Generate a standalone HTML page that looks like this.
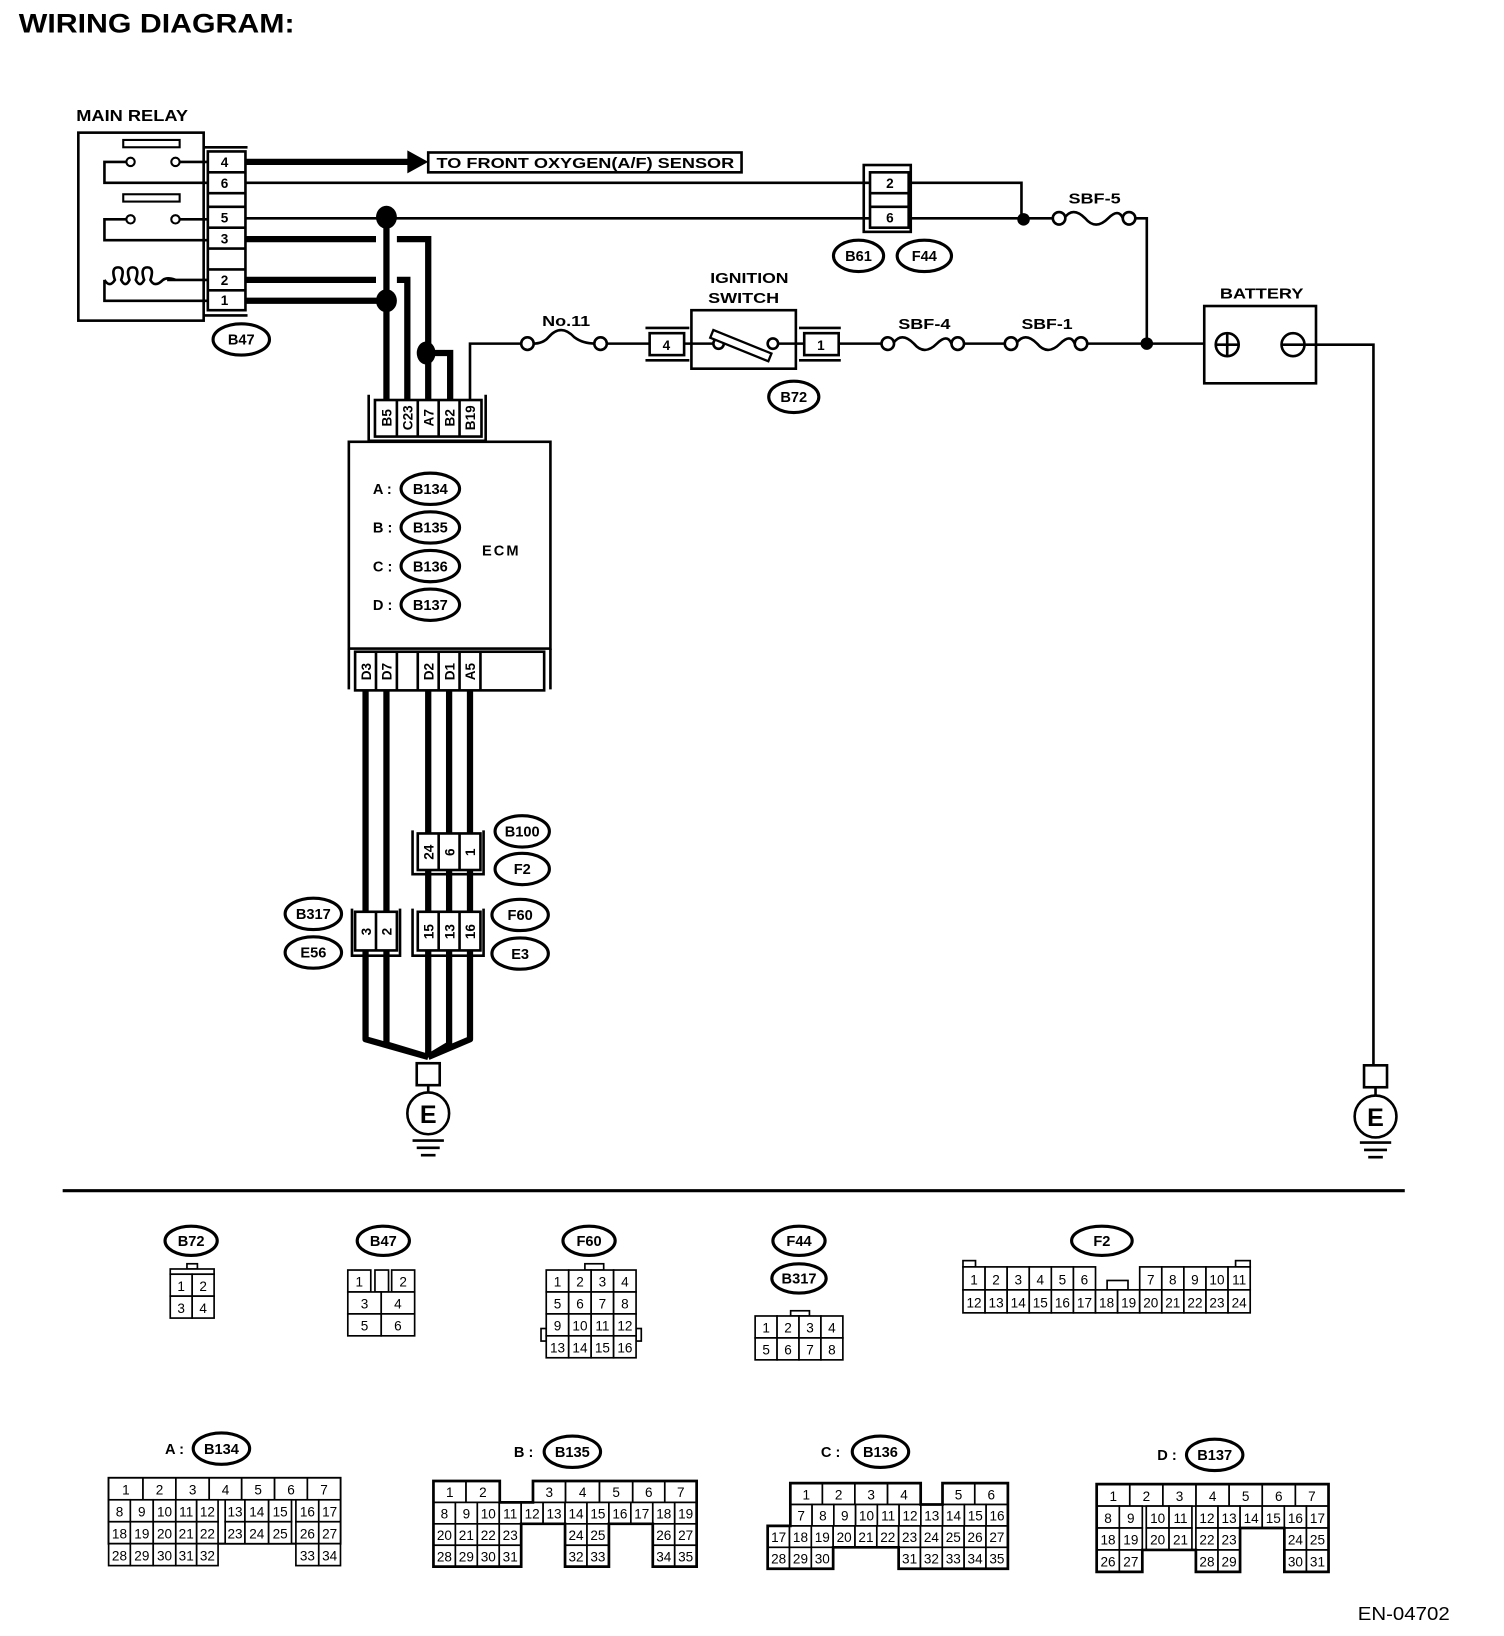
<!DOCTYPE html>
<html><head><meta charset="utf-8"><style>
html,body{margin:0;padding:0;background:#fff}
svg{display:block}
text{font-family:"Liberation Sans",Arial,sans-serif;fill:#000}
.b{font-weight:bold}
.c{fill:#fff;stroke:#000;stroke-width:1.6}
.t{font-size:13px;text-anchor:middle}
.o{fill:#fff;stroke:#000;stroke-width:3}
.ot{font-size:14px;font-weight:bold;text-anchor:middle}
.w{stroke:#000;fill:none;stroke-width:2.5}
.W{stroke:#000;fill:none;stroke-width:6}
</style></head><body>
<svg width="1504" height="1636" viewBox="0 0 1440 1566.4" preserveAspectRatio="none" xmlns="http://www.w3.org/2000/svg">
<text x="18" y="31" class="b" font-size="26" textLength="264" lengthAdjust="spacingAndGlyphs">WIRING DIAGRAM:</text>

<!-- MAIN RELAY -->
<text x="73" y="116" class="b" font-size="15" textLength="107" lengthAdjust="spacingAndGlyphs">MAIN RELAY</text>
<rect x="75" y="127" width="120" height="180" fill="none" stroke="#000" stroke-width="2.5"/>
<rect x="118" y="134" width="54" height="7" fill="none" stroke="#000" stroke-width="2"/>
<rect x="118" y="186" width="54" height="7" fill="none" stroke="#000" stroke-width="2"/>
<path class="w" d="M121,155 H100 V175 H200 M172,155 H200 M121,210 H100 V230 H200 M172,210 H200 M100,268 V288 H200 M160,268 H200"/>
<circle cx="125" cy="155" r="4" fill="#fff" stroke="#000" stroke-width="2"/>
<circle cx="168" cy="155" r="4" fill="#fff" stroke="#000" stroke-width="2"/>
<circle cx="125" cy="210" r="4" fill="#fff" stroke="#000" stroke-width="2"/>
<circle cx="168" cy="210" r="4" fill="#fff" stroke="#000" stroke-width="2"/>
<path class="w" d="M100,268 q5,8 10,0 q-4,-12 3,-12 q7,0 3,12 q4,8 8,0 q-4,-12 3,-12 q7,0 3,12 q4,8 8,0 q-4,-12 3,-12 q7,0 3,12 q4,8 12,0 q4,-3 12,0"/>
<path class="w" d="M195,141 H237 M195,302 H237"/>
<rect x="199" y="145" width="36" height="152" fill="#fff" stroke="#000" stroke-width="2.5"/>
<path class="w" d="M199,165 H235 M199,185 H235 M199,198 H235 M199,218 H235 M199,238 H235 M199,258 H235 M199,278 H235"/>
<text x="215" y="160" class="t b">4</text><text x="215" y="180" class="t b">6</text>
<text x="215" y="213" class="t b">5</text><text x="215" y="233" class="t b">3</text>
<text x="215" y="273" class="t b">2</text><text x="215" y="292" class="t b">1</text>
<ellipse cx="231" cy="325" rx="27" ry="15" class="o"/><text x="231" y="330" class="ot">B47</text>

<!-- to O2 sensor -->
<path class="W" d="M235,155 H392"/>
<polygon points="390,144 410,155 390,166"/>
<rect x="410" y="146" width="300" height="19" fill="#fff" stroke="#000" stroke-width="2.5"/>
<text x="418" y="161" class="b" font-size="14" textLength="285" lengthAdjust="spacingAndGlyphs">TO FRONT OXYGEN(A/F) SENSOR</text>

<!-- pin6/pin5 thin -->
<path class="w" d="M235,175 H833 M870,175 H978 V210 M235,209 H833 M870,209 H1008 M1087,209 H1098 V329"/>
<rect x="827" y="158" width="45" height="64" fill="none" stroke="#000" stroke-width="2.5"/>
<rect x="833" y="165" width="37" height="53" fill="#fff" stroke="#000" stroke-width="2.5"/>
<path class="w" d="M833,185 H870 M833,198 H870"/>
<text x="852" y="180" class="t b">2</text><text x="852" y="213" class="t b">6</text>
<ellipse cx="822" cy="245" rx="24" ry="15" class="o"/><text x="822" y="250" class="ot">B61</text>
<ellipse cx="885" cy="245" rx="26" ry="15" class="o"/><text x="885" y="250" class="ot">F44</text>
<circle cx="980" cy="210" r="6"/>
<!-- SBF-5 -->
<text x="1023" y="195" class="b" font-size="14" textLength="50" lengthAdjust="spacingAndGlyphs">SBF-5</text>
<path class="w" d="M1019,209 q8,-12 20,0 q10,12 22,0 q10,-10 14,0" stroke-width="2"/>
<circle cx="1014" cy="209" r="6" fill="#fff" stroke="#000" stroke-width="2.5"/>
<circle cx="1081" cy="209" r="6" fill="#fff" stroke="#000" stroke-width="2.5"/>

<!-- thick wires to ECM -->
<path class="W" d="M235,229 H360 M380,229 H410 V385 M235,268 H360 M380,268 H390 V385 M235,288 H370 M370,208 V385 M408,338 H431 V385"/>
<ellipse cx="370" cy="208" rx="10" ry="11"/>
<ellipse cx="370" cy="288" rx="10" ry="11"/>
<ellipse cx="408" cy="338" rx="9" ry="11"/>
<path class="w" d="M450,385 V329 H500 M580,329 H622"/>
<!-- No.11 -->
<text x="519" y="312" class="b" font-size="14" textLength="46" lengthAdjust="spacingAndGlyphs">No.11</text>
<path class="w" d="M510,329 q10,0 15,-6 q12,-14 25,0 q8,6 20,6" stroke-width="2"/>
<circle cx="505" cy="329" r="6" fill="#fff" stroke="#000" stroke-width="2.5"/>
<circle cx="575" cy="329" r="6" fill="#fff" stroke="#000" stroke-width="2.5"/>

<!-- Ignition switch -->
<text x="680" y="271" class="b" font-size="14" textLength="75" lengthAdjust="spacingAndGlyphs">IGNITION</text>
<text x="678" y="290" class="b" font-size="14" textLength="68" lengthAdjust="spacingAndGlyphs">SWITCH</text>
<path class="w" d="M618,314 H660 M618,345 H660 M765,314 H805 M765,345 H805"/>
<rect x="622" y="319" width="33" height="21" fill="#fff" stroke="#000" stroke-width="2.5"/>
<text x="638" y="335" class="t b">4</text>
<rect x="662" y="297" width="100" height="56" fill="#fff" stroke="#000" stroke-width="2.5"/>
<path class="w" d="M655,329 H683 M745,329 H770"/>
<circle cx="688" cy="329" r="5" fill="#fff" stroke="#000" stroke-width="2.5"/>
<circle cx="740" cy="329" r="5" fill="#fff" stroke="#000" stroke-width="2.5"/>
<rect x="683" y="316" width="60" height="8" fill="#fff" stroke="#000" stroke-width="2.2" transform="rotate(22 683 316)"/>
<rect x="770" y="319" width="33" height="21" fill="#fff" stroke="#000" stroke-width="2.5"/>
<text x="786" y="335" class="t b">1</text>
<ellipse cx="760" cy="380" rx="24" ry="15" class="o"/><text x="760" y="385" class="ot">B72</text>

<path class="w" d="M803,329 H845 M922,329 H963 M1040,329 H1160"/>
<text x="860" y="315" class="b" font-size="14" textLength="50" lengthAdjust="spacingAndGlyphs">SBF-4</text>
<path class="w" d="M855,329 q8,-12 20,0 q10,12 22,0 q10,-10 14,0" stroke-width="2"/>
<circle cx="850" cy="329" r="6" fill="#fff" stroke="#000" stroke-width="2.5"/>
<circle cx="917" cy="329" r="6" fill="#fff" stroke="#000" stroke-width="2.5"/>
<text x="978" y="315" class="b" font-size="14" textLength="49" lengthAdjust="spacingAndGlyphs">SBF-1</text>
<path class="w" d="M973,329 q8,-12 20,0 q10,12 22,0 q10,-10 14,0" stroke-width="2"/>
<circle cx="968" cy="329" r="6" fill="#fff" stroke="#000" stroke-width="2.5"/>
<circle cx="1035" cy="329" r="6" fill="#fff" stroke="#000" stroke-width="2.5"/>
<circle cx="1098" cy="329" r="6"/>

<!-- Battery -->
<text x="1168" y="286" class="b" font-size="14" textLength="80" lengthAdjust="spacingAndGlyphs">BATTERY</text>
<rect x="1153" y="293" width="107" height="74" fill="#fff" stroke="#000" stroke-width="2.5"/>
<circle cx="1175" cy="330" r="11" fill="none" stroke="#000" stroke-width="2.5"/>
<path class="w" d="M1164,330 H1186 M1175,319 V341 M1227,330 H1315 V1020"/>
<circle cx="1238" cy="330" r="11" fill="#fff" stroke="#000" stroke-width="2.5"/>
<path class="w" d="M1227,330 H1249"/>
<!-- right ground -->
<rect x="1306" y="1020" width="22" height="21" fill="#fff" stroke="#000" stroke-width="2.5"/>
<path class="w" d="M1317,1041 V1050"/>
<circle cx="1317" cy="1069" r="20" fill="#fff" stroke="#000" stroke-width="2.5"/>
<text x="1317" y="1078" font-size="24" class="b" text-anchor="middle">E</text>
<path class="w" d="M1302,1094 H1332 M1306,1101 H1328 M1310,1108 H1324"/>

<!-- ECM top connector -->
<path class="w" d="M353,378 V422 H465 V378"/>
<rect x="359" y="383" width="102" height="35" fill="#fff" stroke="#000" stroke-width="2.5"/>
<path class="w" d="M380,383 V418 M400,383 V418 M420,383 V418 M440,383 V418"/>
<g class="b" font-size="13" text-anchor="middle">
<text transform="translate(375,400) rotate(-90)">B5</text>
<text transform="translate(395,400) rotate(-90)">C23</text>
<text transform="translate(415,400) rotate(-90)">A7</text>
<text transform="translate(435,400) rotate(-90)">B2</text>
<text transform="translate(455,400) rotate(-90)">B19</text>
</g>
<!-- ECM -->
<rect x="334" y="423" width="193" height="198" fill="#fff" stroke="#000" stroke-width="2.5"/>
<text x="357" y="473" class="b" font-size="14">A :</text>
<ellipse cx="412" cy="468" rx="28" ry="15" class="o"/><text x="412" y="473" class="ot">B134</text>
<text x="357" y="510" class="b" font-size="14">B :</text>
<ellipse cx="412" cy="505" rx="28" ry="15" class="o"/><text x="412" y="510" class="ot">B135</text>
<text x="357" y="547" class="b" font-size="14">C :</text>
<ellipse cx="412" cy="542" rx="28" ry="15" class="o"/><text x="412" y="547" class="ot">B136</text>
<text x="357" y="584" class="b" font-size="14">D :</text>
<ellipse cx="412" cy="579" rx="28" ry="15" class="o"/><text x="412" y="584" class="ot">B137</text>
<text x="480" y="532" class="ot" letter-spacing="2">ECM</text>
<path class="w" d="M334,621 V660 M527,621 V660"/>
<rect x="340" y="624" width="181" height="37" fill="#fff" stroke="#000" stroke-width="2.5"/>
<path class="w" d="M360,624 V661 M380,624 V661 M400,624 V661 M420,624 V661 M440,624 V661 M460,624 V661"/>
<g class="b" font-size="13" text-anchor="middle">
<text transform="translate(355,643) rotate(-90)">D3</text>
<text transform="translate(375,643) rotate(-90)">D7</text>
<text transform="translate(415,643) rotate(-90)">D2</text>
<text transform="translate(435,643) rotate(-90)">D1</text>
<text transform="translate(455,643) rotate(-90)">A5</text>
</g>
<!-- lower wires -->
<path class="W" d="M350,661 V995 L410,1012 M370,661 V1000 L410,1012 M410,661 V1012 M430,661 V1000 L410,1012 M450,661 V995 L410,1012" stroke-linejoin="round"/>
<!-- B100/F2 -->
<path class="w" d="M395,795 V837 H463 V795"/>
<rect x="400" y="798" width="60" height="35" fill="#fff" stroke="#000" stroke-width="2.5"/>
<path class="w" d="M420,798 V833 M440,798 V833"/>
<g class="b" font-size="13" text-anchor="middle">
<text transform="translate(415,816) rotate(-90)">24</text>
<text transform="translate(435,816) rotate(-90)">6</text>
<text transform="translate(455,816) rotate(-90)">1</text>
</g>
<ellipse cx="500" cy="796" rx="26" ry="15" class="o"/><text x="500" y="801" class="ot">B100</text>
<ellipse cx="500" cy="832" rx="26" ry="15" class="o"/><text x="500" y="837" class="ot">F2</text>
<!-- B317/E56 -->
<path class="w" d="M337,870 V915 H383 V870"/>
<rect x="340" y="873" width="40" height="37" fill="#fff" stroke="#000" stroke-width="2.5"/>
<path class="w" d="M360,873 V910"/>
<g class="b" font-size="13" text-anchor="middle">
<text transform="translate(355,892) rotate(-90)">3</text>
<text transform="translate(375,892) rotate(-90)">2</text>
</g>
<ellipse cx="300" cy="875" rx="27" ry="15" class="o"/><text x="300" y="880" class="ot">B317</text>
<ellipse cx="300" cy="912" rx="27" ry="15" class="o"/><text x="300" y="917" class="ot">E56</text>
<!-- F60/E3 -->
<path class="w" d="M395,870 V915 H463 V870"/>
<rect x="400" y="873" width="60" height="37" fill="#fff" stroke="#000" stroke-width="2.5"/>
<path class="w" d="M420,873 V910 M440,873 V910"/>
<g class="b" font-size="13" text-anchor="middle">
<text transform="translate(415,892) rotate(-90)">15</text>
<text transform="translate(435,892) rotate(-90)">13</text>
<text transform="translate(455,892) rotate(-90)">16</text>
</g>
<ellipse cx="498" cy="876" rx="27" ry="15" class="o"/><text x="498" y="881" class="ot">F60</text>
<ellipse cx="498" cy="913" rx="27" ry="15" class="o"/><text x="498" y="918" class="ot">E3</text>
<!-- left ground -->
<rect x="399" y="1018" width="22" height="21" fill="#fff" stroke="#000" stroke-width="2.5"/>
<path class="w" d="M410,1039 V1047"/>
<circle cx="410" cy="1066" r="20" fill="#fff" stroke="#000" stroke-width="2.5"/>
<text x="410" y="1075" font-size="24" class="b" text-anchor="middle">E</text>
<path class="w" d="M395,1092 H425 M399,1099 H421 M403,1106 H417"/>

<!-- separator -->
<path d="M60,1140 H1345" stroke="#000" stroke-width="3"/>

<!-- small connectors -->
<ellipse cx="183" cy="1188" rx="25" ry="14" class="o"/><text x="183" y="1193" class="ot">B72</text>
<rect x="179" y="1210" width="10" height="5" class="c"/>
<rect x="163" y="1215" width="42" height="5" class="c"/>
<rect x="163" y="1220" width="21" height="21" class="c"/><text x="173.5" y="1236" class="t">1</text>
<rect x="184" y="1220" width="21" height="21" class="c"/><text x="194.5" y="1236" class="t">2</text>
<rect x="163" y="1241" width="21" height="21" class="c"/><text x="173.5" y="1257" class="t">3</text>
<rect x="184" y="1241" width="21" height="21" class="c"/><text x="194.5" y="1257" class="t">4</text>

<ellipse cx="367" cy="1188" rx="25" ry="14" class="o"/><text x="367" y="1193" class="ot">B47</text>
<rect x="333" y="1216" width="22" height="21" class="c"/><text x="344" y="1232" class="t">1</text>
<rect x="359" y="1216" width="13" height="21" class="c"/>
<rect x="375" y="1216" width="22" height="21" class="c"/><text x="386" y="1232" class="t">2</text>
<rect x="333" y="1237" width="32" height="21" class="c"/><text x="349" y="1253" class="t">3</text>
<rect x="365" y="1237" width="32" height="21" class="c"/><text x="381" y="1253" class="t">4</text>
<rect x="333" y="1258" width="32" height="21" class="c"/><text x="349" y="1274" class="t">5</text>
<rect x="365" y="1258" width="32" height="21" class="c"/><text x="381" y="1274" class="t">6</text>

<ellipse cx="564" cy="1188" rx="25" ry="14" class="o"/><text x="564" y="1193" class="ot">F60</text>
<rect x="560" y="1210" width="18" height="6" class="c"/>
<rect x="518" y="1272" width="5" height="12" class="c"/><rect x="609" y="1272" width="5" height="12" class="c"/>
<g>
<rect x="523" y="1216" width="21.5" height="21" class="c"/><rect x="544.5" y="1216" width="21.5" height="21" class="c"/><rect x="566" y="1216" width="21.5" height="21" class="c"/><rect x="587.5" y="1216" width="21.5" height="21" class="c"/>
<rect x="523" y="1237" width="21.5" height="21" class="c"/><rect x="544.5" y="1237" width="21.5" height="21" class="c"/><rect x="566" y="1237" width="21.5" height="21" class="c"/><rect x="587.5" y="1237" width="21.5" height="21" class="c"/>
<rect x="523" y="1258" width="21.5" height="21" class="c"/><rect x="544.5" y="1258" width="21.5" height="21" class="c"/><rect x="566" y="1258" width="21.5" height="21" class="c"/><rect x="587.5" y="1258" width="21.5" height="21" class="c"/>
<rect x="523" y="1279" width="21.5" height="21" class="c"/><rect x="544.5" y="1279" width="21.5" height="21" class="c"/><rect x="566" y="1279" width="21.5" height="21" class="c"/><rect x="587.5" y="1279" width="21.5" height="21" class="c"/>
</g>
<g class="t" font-size="13" text-anchor="middle">
<text x="533.8" y="1232">1</text><text x="555.3" y="1232">2</text><text x="576.8" y="1232">3</text><text x="598.3" y="1232">4</text>
<text x="533.8" y="1253">5</text><text x="555.3" y="1253">6</text><text x="576.8" y="1253">7</text><text x="598.3" y="1253">8</text>
<text x="533.8" y="1274">9</text><text x="555.3" y="1274">10</text><text x="576.8" y="1274">11</text><text x="598.3" y="1274">12</text>
<text x="533.8" y="1295">13</text><text x="555.3" y="1295">14</text><text x="576.8" y="1295">15</text><text x="598.3" y="1295">16</text>
</g>

<ellipse cx="765" cy="1188" rx="25" ry="14" class="o"/><text x="765" y="1193" class="ot">F44</text>
<ellipse cx="765" cy="1224" rx="26" ry="14" class="o"/><text x="765" y="1229" class="ot">B317</text>
<rect x="757" y="1255" width="18" height="5" class="c"/>
<rect x="723" y="1260" width="21" height="21" class="c"/><rect x="744" y="1260" width="21" height="21" class="c"/><rect x="765" y="1260" width="21" height="21" class="c"/><rect x="786" y="1260" width="21" height="21" class="c"/>
<rect x="723" y="1281" width="21" height="21" class="c"/><rect x="744" y="1281" width="21" height="21" class="c"/><rect x="765" y="1281" width="21" height="21" class="c"/><rect x="786" y="1281" width="21" height="21" class="c"/>
<g class="t" font-size="13" text-anchor="middle">
<text x="733.5" y="1276">1</text><text x="754.5" y="1276">2</text><text x="775.5" y="1276">3</text><text x="796.5" y="1276">4</text>
<text x="733.5" y="1297">5</text><text x="754.5" y="1297">6</text><text x="775.5" y="1297">7</text><text x="796.5" y="1297">8</text>
</g>

<ellipse cx="1055" cy="1188" rx="29" ry="14" class="o"/><text x="1055" y="1193" class="ot">F2</text>
<rect x="922" y="1207" width="12" height="6" class="c"/><rect x="1183" y="1207" width="14" height="6" class="c"/>
<rect x="1060" y="1226" width="20" height="9" class="c"/>
<g>
<rect x="922" y="1213" width="21.15" height="22" class="c"/><rect x="943.15" y="1213" width="21.15" height="22" class="c"/><rect x="964.3" y="1213" width="21.15" height="22" class="c"/><rect x="985.45" y="1213" width="21.15" height="22" class="c"/><rect x="1006.6" y="1213" width="21.15" height="22" class="c"/><rect x="1027.75" y="1213" width="21.15" height="22" class="c"/>
<rect x="1091.2" y="1213" width="21.15" height="22" class="c"/><rect x="1112.35" y="1213" width="21.15" height="22" class="c"/><rect x="1133.5" y="1213" width="21.15" height="22" class="c"/><rect x="1154.65" y="1213" width="21.15" height="22" class="c"/><rect x="1175.8" y="1213" width="21.2" height="22" class="c"/>
</g>
<g class="t" font-size="13" text-anchor="middle">
<text x="932.6" y="1230">1</text><text x="953.7" y="1230">2</text><text x="974.9" y="1230">3</text><text x="996" y="1230">4</text><text x="1017.2" y="1230">5</text><text x="1038.3" y="1230">6</text>
<text x="1101.8" y="1230">7</text><text x="1122.9" y="1230">8</text><text x="1144.1" y="1230">9</text><text x="1165.2" y="1230">10</text><text x="1186.4" y="1230">11</text>
</g>
<g>
<rect x="922" y="1235" width="21.15" height="22" class="c"/><rect x="943.15" y="1235" width="21.15" height="22" class="c"/><rect x="964.3" y="1235" width="21.15" height="22" class="c"/><rect x="985.45" y="1235" width="21.15" height="22" class="c"/><rect x="1006.6" y="1235" width="21.15" height="22" class="c"/><rect x="1027.75" y="1235" width="21.15" height="22" class="c"/><rect x="1048.9" y="1235" width="21.15" height="22" class="c"/><rect x="1070.05" y="1235" width="21.15" height="22" class="c"/><rect x="1091.2" y="1235" width="21.15" height="22" class="c"/><rect x="1112.35" y="1235" width="21.15" height="22" class="c"/><rect x="1133.5" y="1235" width="21.15" height="22" class="c"/><rect x="1154.65" y="1235" width="21.15" height="22" class="c"/><rect x="1175.8" y="1235" width="21.2" height="22" class="c"/>
</g>
<g class="t" font-size="13" text-anchor="middle">
<text x="932.6" y="1252">12</text><text x="953.7" y="1252">13</text><text x="974.9" y="1252">14</text><text x="996" y="1252">15</text><text x="1017.2" y="1252">16</text><text x="1038.3" y="1252">17</text><text x="1059.5" y="1252">18</text><text x="1080.6" y="1252">19</text><text x="1101.8" y="1252">20</text><text x="1122.9" y="1252">21</text><text x="1144.1" y="1252">22</text><text x="1165.2" y="1252">23</text><text x="1186.4" y="1252">24</text>
</g>

<!-- ECM connector A -->
<text x="158" y="1392" class="b" font-size="14">A :</text>
<ellipse cx="212" cy="1387" rx="27" ry="15" class="o"/><text x="212" y="1392" class="ot">B134</text>
<rect x="104" y="1415" width="222" height="63" fill="none" stroke="#000" stroke-width="2"/>
<g>
<rect x="104" y="1415" width="32.9" height="21" class="c"/><rect x="136.9" y="1415" width="31.5" height="21" class="c"/><rect x="168.4" y="1415" width="31.9" height="21" class="c"/><rect x="200.3" y="1415" width="31.1" height="21" class="c"/><rect x="231.4" y="1415" width="31.5" height="21" class="c"/><rect x="262.9" y="1415" width="31.4" height="21" class="c"/><rect x="294.3" y="1415" width="31.7" height="21" class="c"/>
<rect x="104" y="1436" width="20.8" height="21" class="c"/><rect x="124.8" y="1436" width="21.9" height="21" class="c"/><rect x="146.7" y="1436" width="21.6" height="21" class="c"/><rect x="168.3" y="1436" width="20" height="21" class="c"/><rect x="188.3" y="1436" width="20.5" height="21" class="c"/><rect x="215.6" y="1436" width="18.9" height="21" class="c"/><rect x="234.5" y="1436" width="22.7" height="21" class="c"/><rect x="257.2" y="1436" width="21.9" height="21" class="c"/><rect x="283.3" y="1436" width="21.9" height="21" class="c"/><rect x="305.2" y="1436" width="20.8" height="21" class="c"/>
<rect x="104" y="1457" width="20.8" height="21" class="c"/><rect x="124.8" y="1457" width="21.9" height="21" class="c"/><rect x="146.7" y="1457" width="21.6" height="21" class="c"/><rect x="168.3" y="1457" width="20" height="21" class="c"/><rect x="188.3" y="1457" width="20.5" height="21" class="c"/><rect x="215.6" y="1457" width="18.9" height="21" class="c"/><rect x="234.5" y="1457" width="22.7" height="21" class="c"/><rect x="257.2" y="1457" width="21.9" height="21" class="c"/><rect x="283.3" y="1457" width="21.9" height="21" class="c"/><rect x="305.2" y="1457" width="20.8" height="21" class="c"/>
<rect x="104" y="1478" width="20.8" height="21" class="c"/><rect x="124.8" y="1478" width="21.9" height="21" class="c"/><rect x="146.7" y="1478" width="21.6" height="21" class="c"/><rect x="168.3" y="1478" width="20" height="21" class="c"/><rect x="188.3" y="1478" width="20.5" height="21" class="c"/><rect x="283.3" y="1478" width="21.9" height="21" class="c"/><rect x="305.2" y="1478" width="20.8" height="21" class="c"/>
</g>
<g class="t" font-size="13" text-anchor="middle">
<text x="120.5" y="1431">1</text><text x="152.7" y="1431">2</text><text x="184.4" y="1431">3</text><text x="215.9" y="1431">4</text><text x="247.2" y="1431">5</text><text x="278.6" y="1431">6</text><text x="310.2" y="1431">7</text>
<text x="114.4" y="1452">8</text><text x="135.8" y="1452">9</text><text x="157.5" y="1452">10</text><text x="178.3" y="1452">11</text><text x="198.6" y="1452">12</text><text x="225" y="1452">13</text><text x="245.9" y="1452">14</text><text x="268.2" y="1452">15</text><text x="294.3" y="1452">16</text><text x="315.6" y="1452">17</text>
<text x="114.4" y="1473">18</text><text x="135.8" y="1473">19</text><text x="157.5" y="1473">20</text><text x="178.3" y="1473">21</text><text x="198.6" y="1473">22</text><text x="225" y="1473">23</text><text x="245.9" y="1473">24</text><text x="268.2" y="1473">25</text><text x="294.3" y="1473">26</text><text x="315.6" y="1473">27</text>
<text x="114.4" y="1494">28</text><text x="135.8" y="1494">29</text><text x="157.5" y="1494">30</text><text x="178.3" y="1494">31</text><text x="198.6" y="1494">32</text><text x="294.3" y="1494">33</text><text x="315.6" y="1494">34</text>
</g>

<!-- ECM connector B -->
<text x="492" y="1395" class="b" font-size="14">B :</text>
<ellipse cx="548" cy="1390" rx="27" ry="15" class="o"/><text x="548" y="1395" class="ot">B135</text>
<g>
<rect x="415" y="1418" width="31.2" height="20.5" class="c"/><rect x="446.2" y="1418" width="32.3" height="20.5" class="c"/><rect x="510.3" y="1418" width="31.2" height="20.5" class="c"/><rect x="541.5" y="1418" width="32.5" height="20.5" class="c"/><rect x="574" y="1418" width="31.8" height="20.5" class="c"/><rect x="605.8" y="1418" width="30.7" height="20.5" class="c"/><rect x="636.5" y="1418" width="30.5" height="20.5" class="c"/>
<rect x="415" y="1438.5" width="21" height="20.5" class="c"/><rect x="436" y="1438.5" width="21" height="20.5" class="c"/><rect x="457" y="1438.5" width="21" height="20.5" class="c"/><rect x="478" y="1438.5" width="21" height="20.5" class="c"/><rect x="499" y="1438.5" width="21" height="20.5" class="c"/><rect x="520" y="1438.5" width="21" height="20.5" class="c"/><rect x="541" y="1438.5" width="21" height="20.5" class="c"/><rect x="562" y="1438.5" width="21" height="20.5" class="c"/><rect x="583" y="1438.5" width="21" height="20.5" class="c"/><rect x="604" y="1438.5" width="21" height="20.5" class="c"/><rect x="625" y="1438.5" width="21" height="20.5" class="c"/><rect x="646" y="1438.5" width="21" height="20.5" class="c"/>
<rect x="415" y="1459" width="21" height="20.5" class="c"/><rect x="436" y="1459" width="21" height="20.5" class="c"/><rect x="457" y="1459" width="21" height="20.5" class="c"/><rect x="478" y="1459" width="21" height="20.5" class="c"/><rect x="541" y="1459" width="21" height="20.5" class="c"/><rect x="562" y="1459" width="21" height="20.5" class="c"/><rect x="625" y="1459" width="21" height="20.5" class="c"/><rect x="646" y="1459" width="21" height="20.5" class="c"/>
<rect x="415" y="1479.5" width="21" height="20.5" class="c"/><rect x="436" y="1479.5" width="21" height="20.5" class="c"/><rect x="457" y="1479.5" width="21" height="20.5" class="c"/><rect x="478" y="1479.5" width="21" height="20.5" class="c"/><rect x="541" y="1479.5" width="21" height="20.5" class="c"/><rect x="562" y="1479.5" width="21" height="20.5" class="c"/><rect x="625" y="1479.5" width="21" height="20.5" class="c"/><rect x="646" y="1479.5" width="21" height="20.5" class="c"/>
</g>
<path d="M415,1418 H478.5 V1438.5 H510.3 V1418 H667 V1500 H625 V1459 H583 V1500 H541 V1459 H499 V1500 H415 Z" fill="none" stroke="#000" stroke-width="2.6"/>
<g class="t" font-size="13" text-anchor="middle">
<text x="430.6" y="1433.5">1</text><text x="462.4" y="1433.5">2</text><text x="525.9" y="1433.5">3</text><text x="557.8" y="1433.5">4</text><text x="589.9" y="1433.5">5</text><text x="621.2" y="1433.5">6</text><text x="651.8" y="1433.5">7</text>
<text x="425.5" y="1454">8</text><text x="446.5" y="1454">9</text><text x="467.5" y="1454">10</text><text x="488.5" y="1454">11</text><text x="509.5" y="1454">12</text><text x="530.5" y="1454">13</text><text x="551.5" y="1454">14</text><text x="572.5" y="1454">15</text><text x="593.5" y="1454">16</text><text x="614.5" y="1454">17</text><text x="635.5" y="1454">18</text><text x="656.5" y="1454">19</text>
<text x="425.5" y="1474.5">20</text><text x="446.5" y="1474.5">21</text><text x="467.5" y="1474.5">22</text><text x="488.5" y="1474.5">23</text><text x="551.5" y="1474.5">24</text><text x="572.5" y="1474.5">25</text><text x="635.5" y="1474.5">26</text><text x="656.5" y="1474.5">27</text>
<text x="425.5" y="1495">28</text><text x="446.5" y="1495">29</text><text x="467.5" y="1495">30</text><text x="488.5" y="1495">31</text><text x="551.5" y="1495">32</text><text x="572.5" y="1495">33</text><text x="635.5" y="1495">34</text><text x="656.5" y="1495">35</text>
</g>

<!-- ECM connector C -->
<text x="786" y="1395" class="b" font-size="14">C :</text>
<ellipse cx="843" cy="1390" rx="27" ry="15" class="o"/><text x="843" y="1395" class="ot">B136</text>
<g>
<rect x="756.7" y="1420" width="30.7" height="20.5" class="c"/><rect x="787.4" y="1420" width="31.1" height="20.5" class="c"/><rect x="818.5" y="1420" width="31.3" height="20.5" class="c"/><rect x="849.8" y="1420" width="31.7" height="20.5" class="c"/><rect x="902.4" y="1420" width="30.9" height="20.5" class="c"/><rect x="933.3" y="1420" width="31.7" height="20.5" class="c"/>
<rect x="756.7" y="1440.5" width="20.83" height="20.5" class="c"/><rect x="777.53" y="1440.5" width="20.83" height="20.5" class="c"/><rect x="798.36" y="1440.5" width="20.83" height="20.5" class="c"/><rect x="819.19" y="1440.5" width="20.83" height="20.5" class="c"/><rect x="840.02" y="1440.5" width="20.83" height="20.5" class="c"/><rect x="860.85" y="1440.5" width="20.83" height="20.5" class="c"/><rect x="881.68" y="1440.5" width="20.83" height="20.5" class="c"/><rect x="902.51" y="1440.5" width="20.83" height="20.5" class="c"/><rect x="923.34" y="1440.5" width="20.83" height="20.5" class="c"/><rect x="944.17" y="1440.5" width="20.83" height="20.5" class="c"/>
<rect x="735" y="1461" width="20.9" height="20.5" class="c"/><rect x="755.9" y="1461" width="20.9" height="20.5" class="c"/><rect x="776.8" y="1461" width="20.9" height="20.5" class="c"/><rect x="797.7" y="1461" width="20.9" height="20.5" class="c"/><rect x="818.6" y="1461" width="20.9" height="20.5" class="c"/><rect x="839.5" y="1461" width="20.9" height="20.5" class="c"/><rect x="860.4" y="1461" width="20.9" height="20.5" class="c"/><rect x="881.3" y="1461" width="20.9" height="20.5" class="c"/><rect x="902.2" y="1461" width="20.9" height="20.5" class="c"/><rect x="923.1" y="1461" width="20.9" height="20.5" class="c"/><rect x="944" y="1461" width="21" height="20.5" class="c"/>
<rect x="735" y="1481.5" width="20.9" height="20.5" class="c"/><rect x="755.9" y="1481.5" width="20.9" height="20.5" class="c"/><rect x="776.8" y="1481.5" width="20.9" height="20.5" class="c"/><rect x="860.4" y="1481.5" width="20.9" height="20.5" class="c"/><rect x="881.3" y="1481.5" width="20.9" height="20.5" class="c"/><rect x="902.2" y="1481.5" width="20.9" height="20.5" class="c"/><rect x="923.1" y="1481.5" width="20.9" height="20.5" class="c"/><rect x="944" y="1481.5" width="21" height="20.5" class="c"/>
</g>
<path d="M756.7,1420 H881.5 V1440.5 H902.4 V1420 H965 V1502 H860.4 V1481.5 H797.7 V1502 H735 V1461 H756.7 Z" fill="none" stroke="#000" stroke-width="2.6"/>
<g class="t" font-size="13" text-anchor="middle">
<text x="772" y="1435.5">1</text><text x="803" y="1435.5">2</text><text x="834.1" y="1435.5">3</text><text x="865.6" y="1435.5">4</text><text x="917.8" y="1435.5">5</text><text x="949.1" y="1435.5">6</text>
<text x="767.1" y="1456">7</text><text x="787.9" y="1456">8</text><text x="808.8" y="1456">9</text><text x="829.6" y="1456">10</text><text x="850.4" y="1456">11</text><text x="871.3" y="1456">12</text><text x="892.1" y="1456">13</text><text x="912.9" y="1456">14</text><text x="933.8" y="1456">15</text><text x="954.6" y="1456">16</text>
<text x="745.5" y="1476.5">17</text><text x="766.4" y="1476.5">18</text><text x="787.3" y="1476.5">19</text><text x="808.2" y="1476.5">20</text><text x="829.1" y="1476.5">21</text><text x="850" y="1476.5">22</text><text x="870.9" y="1476.5">23</text><text x="891.8" y="1476.5">24</text><text x="912.7" y="1476.5">25</text><text x="933.6" y="1476.5">26</text><text x="954.5" y="1476.5">27</text>
<text x="745.5" y="1497">28</text><text x="766.4" y="1497">29</text><text x="787.3" y="1497">30</text><text x="870.9" y="1497">31</text><text x="891.8" y="1497">32</text><text x="912.7" y="1497">33</text><text x="933.6" y="1497">34</text><text x="954.5" y="1497">35</text>
</g>

<!-- ECM connector D -->
<text x="1108" y="1398" class="b" font-size="14">D :</text>
<ellipse cx="1163" cy="1393" rx="27" ry="15" class="o"/><text x="1163" y="1398" class="ot">B137</text>
<g>
<rect x="1050" y="1421" width="31.71" height="21" class="c"/><rect x="1081.71" y="1421" width="31.71" height="21" class="c"/><rect x="1113.42" y="1421" width="31.71" height="21" class="c"/><rect x="1145.13" y="1421" width="31.71" height="21" class="c"/><rect x="1176.84" y="1421" width="31.71" height="21" class="c"/><rect x="1208.55" y="1421" width="31.71" height="21" class="c"/><rect x="1240.26" y="1421" width="31.74" height="21" class="c"/>
<rect x="1050" y="1442" width="21.7" height="21" class="c"/><rect x="1071.7" y="1442" width="22" height="21" class="c"/><rect x="1097.5" y="1442" width="21.8" height="21" class="c"/><rect x="1119.3" y="1442" width="21.9" height="21" class="c"/><rect x="1145" y="1442" width="21.17" height="21" class="c"/><rect x="1166.17" y="1442" width="21.17" height="21" class="c"/><rect x="1187.34" y="1442" width="21.17" height="21" class="c"/><rect x="1208.51" y="1442" width="21.17" height="21" class="c"/><rect x="1229.68" y="1442" width="21.17" height="21" class="c"/><rect x="1250.85" y="1442" width="21.15" height="21" class="c"/>
<rect x="1050" y="1463" width="21.7" height="21" class="c"/><rect x="1071.7" y="1463" width="22" height="21" class="c"/><rect x="1097.5" y="1463" width="21.8" height="21" class="c"/><rect x="1119.3" y="1463" width="21.9" height="21" class="c"/><rect x="1145" y="1463" width="21.17" height="21" class="c"/><rect x="1166.17" y="1463" width="21.17" height="21" class="c"/><rect x="1229.68" y="1463" width="21.17" height="21" class="c"/><rect x="1250.85" y="1463" width="21.15" height="21" class="c"/>
<rect x="1050" y="1484" width="21.7" height="21" class="c"/><rect x="1071.7" y="1484" width="22" height="21" class="c"/><rect x="1145" y="1484" width="21.17" height="21" class="c"/><rect x="1166.17" y="1484" width="21.17" height="21" class="c"/><rect x="1229.68" y="1484" width="21.17" height="21" class="c"/><rect x="1250.85" y="1484" width="21.15" height="21" class="c"/>
</g>
<path d="M1050,1421 H1272 V1505 H1229.7 V1463 H1187.3 V1505 H1145 V1484 H1093.7 V1505 H1050 Z" fill="none" stroke="#000" stroke-width="2.6"/>
<g class="t" font-size="13" text-anchor="middle">
<text x="1065.9" y="1437">1</text><text x="1097.6" y="1437">2</text><text x="1129.3" y="1437">3</text><text x="1161" y="1437">4</text><text x="1192.7" y="1437">5</text><text x="1224.4" y="1437">6</text><text x="1256.1" y="1437">7</text>
<text x="1060.9" y="1458">8</text><text x="1082.7" y="1458">9</text><text x="1108.4" y="1458">10</text><text x="1130.3" y="1458">11</text><text x="1155.6" y="1458">12</text><text x="1176.8" y="1458">13</text><text x="1197.9" y="1458">14</text><text x="1219.1" y="1458">15</text><text x="1240.3" y="1458">16</text><text x="1261.4" y="1458">17</text>
<text x="1060.9" y="1479">18</text><text x="1082.7" y="1479">19</text><text x="1108.4" y="1479">20</text><text x="1130.3" y="1479">21</text><text x="1155.6" y="1479">22</text><text x="1176.8" y="1479">23</text><text x="1240.3" y="1479">24</text><text x="1261.4" y="1479">25</text>
<text x="1060.9" y="1500">26</text><text x="1082.7" y="1500">27</text><text x="1155.6" y="1500">28</text><text x="1176.8" y="1500">29</text><text x="1240.3" y="1500">30</text><text x="1261.4" y="1500">31</text>
</g>

<text x="1300" y="1551" font-size="18" textLength="88" lengthAdjust="spacingAndGlyphs">EN-04702</text>
</svg>
</body></html>
